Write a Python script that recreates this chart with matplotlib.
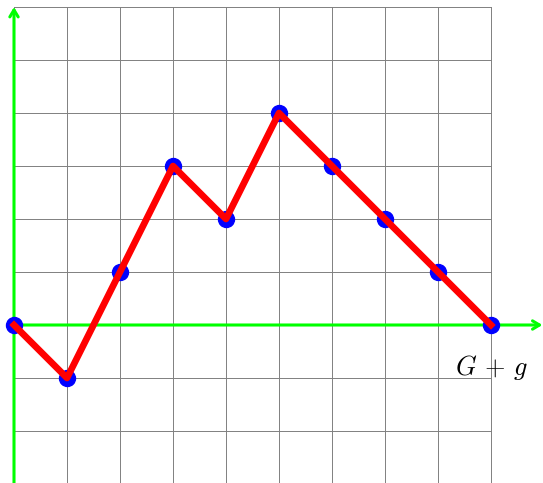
import matplotlib
matplotlib.use("Agg")
import matplotlib.pyplot as plt

plt.rcParams["mathtext.fontset"] = "cm"

# path vertices
x_values = [0, 1, 2, 3, 4, 5, 6, 7, 8, 9]
y_values = [0, -1, 1, 3, 2, 4, 3, 2, 1, 0]
label_text = r"$G\,+\,g$"

X_MIN, X_MAX = 0, 9
Y_MIN, Y_MAX = -3, 6


def main():
    fig = plt.figure(figsize=(5.43, 4.83), dpi=100)
    ax = fig.add_axes([0, 0, 1, 1])
    ax.set_xlim(-14 / 53, 529 / 53)
    ax.set_ylim(-158 / 53, 325 / 53)
    ax.axis("off")

    # grid
    for gx in range(X_MIN, X_MAX + 1):
        ax.plot([gx, gx], [Y_MIN, Y_MAX], color="#808080", linewidth=0.7, zorder=1)
    for gy in range(Y_MIN, Y_MAX + 1):
        ax.plot([X_MIN, X_MAX], [gy, gy], color="#808080", linewidth=0.7, zorder=1)

    # green axes with arrows
    arrow = dict(arrowstyle="->,head_length=0.5,head_width=0.3", color="#00ff00",
                 linewidth=2.2, shrinkA=0, shrinkB=0)
    ax.annotate("", xy=(9.97, 0), xytext=(0, 0), arrowprops=arrow, zorder=2)
    ax.annotate("", xy=(0, 6.0), xytext=(0, Y_MIN - 0.2), arrowprops=arrow, zorder=2)

    ax.plot(x_values, y_values, linestyle="none", marker="o", markersize=11.5,
            color="blue", zorder=3)
    ax.plot(x_values, y_values, color="red", linewidth=4.8, zorder=4)

    ax.text(x_values[-1], -0.81, label_text, fontsize=19, ha="center", va="center")

    fig.savefig("out.png", dpi=100)


if __name__ == "__main__":
    main()
